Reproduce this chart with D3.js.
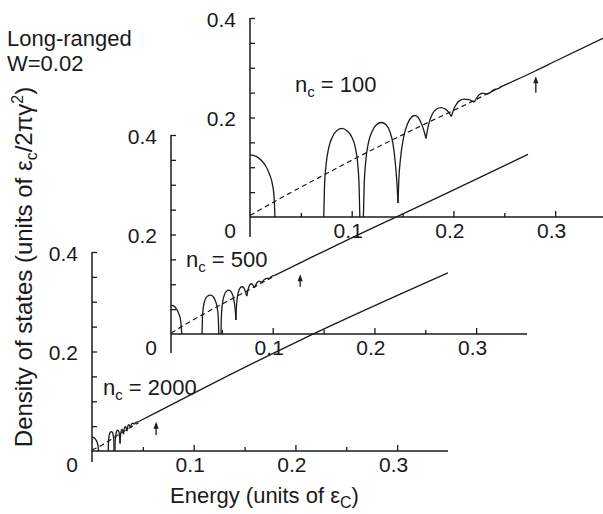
<!DOCTYPE html>
<html>
<head>
<meta charset="utf-8">
<script src="https://cdn.jsdelivr.net/npm/d3@7"></script>
<style>
  body { margin: 0; background: #fff; }
  svg { display: block; font-family: "Liberation Sans", Arial, Helvetica, sans-serif; }
</style>
</head>
<body>
<svg id="chart" width="603" height="514"></svg>
<script>
// tick values (energy and density of states share units across the three panels)
const energyMajorTicks = [0.1, 0.2, 0.3];
const energyMinorTicks = [0.05, 0.15, 0.25];
const dosMajorTicks = [0.2, 0.4];
const dosMinorTicks = [0.05, 0.1, 0.15, 0.25, 0.3, 0.35];

// nc = 100 : solid curve split into pieces at every cusp, [energy, dos]
const nc100Solid = [
  [[0,0.125],[0.006,0.122],[0.011,0.114],[0.015,0.104],[0.019,0.087],[0.022,0.066],[0.0237,0.04],[0.0245,0]],
  [[0.0725,0],[0.0732,0.06],[0.0748,0.105],[0.0775,0.14],[0.081,0.161],[0.0855,0.174],[0.0905,0.178],[0.0955,0.173],[0.1,0.161],[0.1035,0.14],[0.106,0.105],[0.1073,0.06],[0.108,0]],
  [[0.1115,0],[0.1122,0.06],[0.1137,0.11],[0.1163,0.148],[0.1198,0.171],[0.1245,0.186],[0.129,0.19],[0.1335,0.186],[0.1375,0.172],[0.1405,0.148],[0.1428,0.11],[0.1447,0.06],[0.1455,0.028]],
  [[0.1455,0.028],[0.1462,0.07],[0.148,0.118],[0.151,0.16],[0.155,0.188],[0.1585,0.2],[0.1618,0.204],[0.165,0.201],[0.168,0.19],[0.1708,0.175],[0.173,0.158]],
  [[0.173,0.158],[0.1755,0.185],[0.179,0.206],[0.1835,0.217],[0.188,0.22],[0.192,0.217],[0.1955,0.21],[0.198,0.202]],
  [[0.198,0.202],[0.2015,0.222],[0.206,0.234],[0.2105,0.237],[0.215,0.236],[0.2185,0.233],[0.2205,0.231]],
  [[0.2205,0.231],[0.225,0.245],[0.229,0.249],[0.233,0.247],[0.236,0.25],[0.24,0.256],[0.244,0.258],[0.247,0.262]],
  [[0.247,0.262],[0.26,0.274],[0.281,0.294],[0.3,0.313],[0.35,0.362]]
];
const nc100Dashed = [[0,0.003],[0.025,0.032],[0.05,0.06],[0.075,0.087],[0.1,0.114],[0.125,0.14],[0.15,0.165],[0.175,0.19],[0.2,0.214],[0.225,0.239],[0.247,0.262]];
const nc100Arrow = [0.281, 0.25, 0.283]; // energy, tail, tip

// nc = 500
const nc500Solid = [
  [[0,0.058],[0.003,0.056],[0.0055,0.05],[0.0078,0.04],[0.0095,0.027],[0.0106,0]],
  [[0.0306,0],[0.0309,0.032],[0.0318,0.054],[0.0334,0.068],[0.0358,0.076],[0.0388,0.078],[0.0415,0.075],[0.0437,0.066],[0.0455,0.052],[0.0465,0.032],[0.047,0]],
  [[0.0492,0],[0.0495,0.035],[0.0505,0.06],[0.0522,0.077],[0.0545,0.086],[0.0568,0.088],[0.059,0.085],[0.061,0.076],[0.0625,0.06],[0.0634,0.042],[0.0638,0.028]],
  [[0.0638,0.028],[0.0643,0.055],[0.0655,0.077],[0.0672,0.09],[0.0695,0.095],[0.0715,0.093],[0.073,0.086],[0.0745,0.076]],
  [[0.0745,0.076],[0.0758,0.09],[0.0775,0.099],[0.0795,0.101],[0.081,0.097],[0.082,0.093]],
  [[0.082,0.093],[0.0845,0.103],[0.087,0.106],[0.089,0.104],[0.0915,0.109],[0.094,0.112],[0.0965,0.112],[0.099,0.116],[0.102,0.118]],
  [[0.102,0.118],[0.127,0.143],[0.2,0.215],[0.2223,0.236],[0.351,0.361]]
];
const nc500Dashed = [[0,0.002],[0.025,0.032],[0.05,0.06],[0.075,0.087],[0.102,0.117]];
const nc500Arrow = [0.127, 0.095, 0.12];

// nc = 2000
const nc2000Solid = [
  [[0,0.028],[0.0018,0.027],[0.0033,0.024],[0.0047,0.019],[0.0058,0.012],[0.0065,0]],
  [[0.016,0],[0.0162,0.018],[0.0168,0.03],[0.0178,0.037],[0.019,0.039],[0.0202,0.037],[0.021,0.03],[0.0215,0.016],[0.0217,0]],
  [[0.0226,0],[0.0228,0.02],[0.0234,0.032],[0.0244,0.04],[0.0254,0.042],[0.0264,0.039],[0.0271,0.03],[0.0276,0.015]],
  [[0.0276,0.015],[0.028,0.03],[0.0287,0.04],[0.0295,0.044],[0.0303,0.041],[0.031,0.034]],
  [[0.031,0.034],[0.0318,0.045],[0.0327,0.049],[0.0337,0.046],[0.0343,0.04]],
  [[0.0343,0.04],[0.0352,0.05],[0.0362,0.053],[0.0372,0.05],[0.0378,0.047]],
  [[0.0378,0.047],[0.0392,0.055],[0.0405,0.056],[0.0415,0.054],[0.043,0.057],[0.0457,0.059]],
  [[0.0457,0.059],[0.063,0.077],[0.1045,0.121],[0.204,0.222],[0.35,0.358]]
];
const nc2000Dashed = [[0,0.002],[0.01,0.012],[0.02,0.025],[0.0325,0.041],[0.0457,0.057]];
const nc2000Arrow = [0.063, 0.032, 0.0586];

// where each panel sits on the page
const panels = [
  { nc: "100",  solid: nc100Solid,  dashed: nc100Dashed,  arrow: nc100Arrow,  ox: 250, oy: 217, drop: 20, lx: 295, ly: 92 },
  { nc: "500",  solid: nc500Solid,  dashed: nc500Dashed,  arrow: nc500Arrow,  ox: 171, oy: 334, drop: 19, lx: 186, ly: 267 },
  { nc: "2000", solid: nc2000Solid, dashed: nc2000Dashed, arrow: nc2000Arrow, ox: 92,  oy: 451, drop: 11, lx: 103, ly: 395 }
];

const ink = "#1a1a1a";
const svg = d3.select("#chart");

const xScale = d3.scaleLinear().domain([0, 0.35]).range([0, 356]);
const yScale = d3.scaleLinear().domain([0, 0.4]).range([0, -199]);

const line = d3.line()
  .x(d => xScale(d[0]))
  .y(d => yScale(d[1]))
  .curve(d3.curveMonotoneX);

panels.forEach(p => {
  const g = svg.append("g").attr("transform", `translate(${p.ox},${p.oy})`);

  // axis lines
  g.append("line")
    .attr("x1", 0).attr("x2", xScale(0.35)).attr("y1", 0).attr("y2", 0)
    .attr("stroke", ink).attr("stroke-width", 1.5);
  g.append("line")
    .attr("x1", 0).attr("x2", 0).attr("y1", yScale(0.4)).attr("y2", p.drop)
    .attr("stroke", ink).attr("stroke-width", 1.5);

  // x ticks, pointing inward
  const xMaj = g.append("g").call(d3.axisBottom(xScale)
    .tickValues(energyMajorTicks).tickSizeInner(-6).tickSizeOuter(0).tickPadding(6)
    .tickFormat(d3.format(".1f")));
  const xMin = g.append("g").call(d3.axisBottom(xScale)
    .tickValues(energyMinorTicks).tickSizeInner(-4).tickSizeOuter(0).tickFormat(""));

  // y ticks, pointing inward
  const yMaj = g.append("g").call(d3.axisLeft(yScale)
    .tickValues(dosMajorTicks).tickSizeInner(-5).tickSizeOuter(0).tickPadding(14)
    .tickFormat(d3.format(".1f")));
  const yMin = g.append("g").call(d3.axisLeft(yScale)
    .tickValues(dosMinorTicks).tickSizeInner(-5).tickSizeOuter(0).tickFormat(""));

  [xMaj, xMin, yMaj, yMin].forEach(a => {
    a.select(".domain").remove();
    a.selectAll(".tick line").attr("stroke", ink).attr("stroke-width", 1.3);
    a.selectAll("text").attr("fill", ink).attr("font-size", 21)
      .attr("font-family", "Liberation Sans, Arial, Helvetica, sans-serif");
  });
  xMaj.selectAll("text").attr("dx", -4);
  yMaj.selectAll("text").attr("dy", "0.4em");

  // the zero label sits low, level with the energy labels
  g.append("text")
    .attr("x", -14).attr("y", 6).attr("dy", "0.71em")
    .attr("text-anchor", "end").attr("font-size", 21).attr("fill", ink)
    .text("0");

  // dashed smooth curve
  g.append("path")
    .attr("d", line(p.dashed))
    .attr("fill", "none").attr("stroke", ink).attr("stroke-width", 1.2)
    .attr("stroke-dasharray", "5,3.5");

  // solid curve
  g.selectAll("path.solid")
    .data(p.solid)
    .join("path")
    .attr("class", "solid")
    .attr("d", line)
    .attr("fill", "none").attr("stroke", ink).attr("stroke-width", 1.3);

  // arrow
  const ax = xScale(p.arrow[0]);
  const tail = yScale(p.arrow[1]);
  const tip = yScale(p.arrow[2]);
  g.append("line")
    .attr("x1", ax).attr("x2", ax).attr("y1", tail).attr("y2", tip + 4)
    .attr("stroke", ink).attr("stroke-width", 1.3);
  g.append("path")
    .attr("d", `M${ax},${tip} L${ax - 2.6},${tip + 7} L${ax + 2.6},${tip + 7} Z`)
    .attr("fill", ink);

  // n_c label
  const t = svg.append("text")
    .attr("x", p.lx).attr("y", p.ly)
    .attr("font-size", 22).attr("fill", ink);
  t.append("tspan").text("n");
  t.append("tspan").attr("dy", 5).attr("font-size", 15).text("c");
  t.append("tspan").attr("dy", -5).text(" = " + p.nc);
});

// corner note
svg.append("text").attr("x", 7).attr("y", 46).attr("font-size", 22).attr("fill", ink).text("Long-ranged");
svg.append("text").attr("x", 7).attr("y", 71).attr("font-size", 22).attr("fill", ink).text("W=0.02");

// x axis title
const xt = svg.append("text").attr("x", 170).attr("y", 503).attr("font-size", 22).attr("fill", ink);
xt.append("tspan").text("Energy (units of ε");
xt.append("tspan").attr("dy", 5).attr("font-size", 16).text("C");
xt.append("tspan").attr("dy", -5).text(")");

// y axis title
const yt = svg.append("text")
  .attr("transform", "translate(32,267) rotate(-90)")
  .attr("text-anchor", "middle").attr("font-size", 24).attr("fill", ink);
yt.append("tspan").text("Density of states (units of ε");
yt.append("tspan").attr("dy", 5).attr("font-size", 16).text("c");
yt.append("tspan").attr("dy", -5).text("/2πγ");
yt.append("tspan").attr("dy", -9).attr("font-size", 16).text("2");
yt.append("tspan").attr("dy", 9).text(")");
</script>
</body>
</html>
